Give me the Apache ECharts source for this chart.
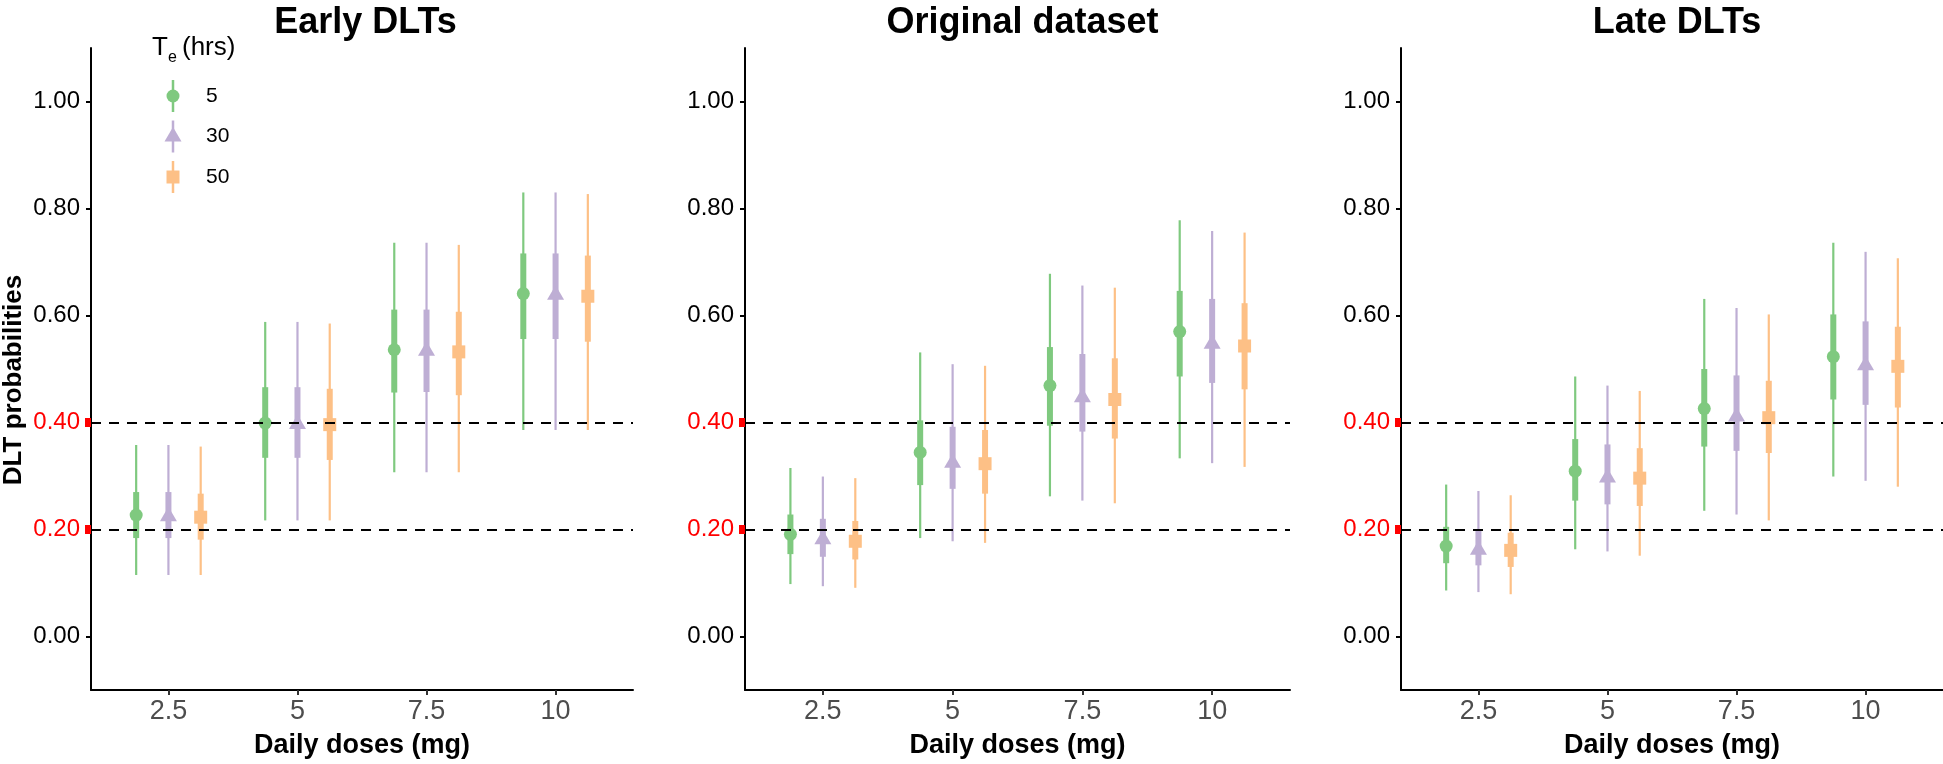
<!DOCTYPE html>
<html><head><meta charset="utf-8">
<script src="https://cdn.jsdelivr.net/npm/echarts@6/dist/echarts.min.js"></script>
<style>html,body{margin:0;padding:0;background:#fff}#c{width:1943px;height:764px}</style>
</head><body><div id="c"></div><script>
// ---- data ----
const panelTitles = ['Early DLTs', 'Original dataset', 'Late DLTs'];
const doses = ['2.5', '5', '7.5', '10'];
const teLevels = ['5', '30', '50'];
const yTicks = [0, 0.2, 0.4, 0.6, 0.8, 1.0];
const thresholds = [0.2, 0.4];
// each row: [lo95, lo50, median, hi50, hi95] for doses 2.5, 5, 7.5, 10
const early_te5  = [[0.115,0.184,0.227,0.270,0.358],[0.217,0.334,0.399,0.466,0.588],[0.307,0.456,0.536,0.611,0.736],[0.386,0.556,0.641,0.716,0.830]];
const early_te30 = [[0.115,0.184,0.225,0.270,0.358],[0.217,0.334,0.397,0.466,0.588],[0.307,0.457,0.534,0.611,0.736],[0.386,0.556,0.639,0.716,0.830]];
const early_te50 = [[0.115,0.181,0.223,0.267,0.355],[0.217,0.330,0.396,0.463,0.585],[0.307,0.451,0.532,0.607,0.732],[0.386,0.551,0.636,0.712,0.827]];
const orig_te5   = [[0.098,0.154,0.191,0.228,0.315],[0.184,0.283,0.344,0.404,0.531],[0.262,0.394,0.469,0.541,0.678],[0.333,0.486,0.570,0.646,0.778]];
const orig_te30  = [[0.094,0.149,0.182,0.220,0.299],[0.178,0.276,0.325,0.392,0.509],[0.254,0.383,0.447,0.528,0.656],[0.324,0.474,0.547,0.631,0.758]];
const orig_te50  = [[0.091,0.144,0.178,0.216,0.296],[0.175,0.267,0.323,0.386,0.506],[0.249,0.370,0.443,0.520,0.652],[0.317,0.462,0.543,0.623,0.755]];
const late_te5   = [[0.086,0.137,0.169,0.205,0.284],[0.163,0.254,0.309,0.369,0.486],[0.235,0.355,0.426,0.500,0.631],[0.299,0.443,0.523,0.602,0.736]];
const late_te30  = [[0.083,0.133,0.162,0.199,0.272],[0.159,0.247,0.297,0.359,0.469],[0.228,0.347,0.411,0.488,0.614],[0.291,0.433,0.507,0.589,0.719]];
const late_te50  = [[0.079,0.130,0.161,0.194,0.264],[0.151,0.244,0.296,0.352,0.459],[0.217,0.343,0.409,0.478,0.602],[0.280,0.428,0.505,0.579,0.707]];
const panelData = [[early_te5, early_te30, early_te50],[orig_te5, orig_te30, orig_te50],[late_te5, late_te30, late_te50]];

// ---- style ----
const colors = ['#7FC97F', '#BEAED4', '#FDC086'];
const shapes = ['circle', 'triangle', 'square'];
const dodge = [-0.25, 0, 0.25];
const FONT = "'Liberation Sans', Arial, Helvetica, sans-serif";
const gridLeft = [88, 745, 1401];
const gridWidth = [545, 545, 542];

function drawSymbol(shape, cx, cy, color) {
  if (shape === 'circle') return {type:'circle', shape:{cx:cx, cy:cy, r:6.5}, style:{fill:color}};
  if (shape === 'triangle') return {type:'polygon', shape:{points:[[cx, cy-9.5],[cx-8.5, cy+5],[cx+8.5, cy+5]]}, style:{fill:color}};
  return {type:'rect', shape:{x:cx-6.5, y:cy-6.5, width:13, height:13}, style:{fill:color}};
}

function makeRender(shape) {
  return function (params, api) {
    const x = api.value(0);
    const a = api.coord([x, api.value(1)]);
    const b = api.coord([x, api.value(2)]);
    const m = api.coord([x, api.value(3)]);
    const c = api.coord([x, api.value(4)]);
    const d = api.coord([x, api.value(5)]);
    const color = api.visual('color');
    return {type:'group', children:[
      {type:'line', shape:{x1:a[0], y1:a[1], x2:d[0], y2:d[1]}, style:{stroke:color, lineWidth:2.2}},
      {type:'line', shape:{x1:b[0], y1:b[1], x2:c[0], y2:c[1]}, style:{stroke:color, lineWidth:6}},
      drawSymbol(shape, m[0], m[1], color)
    ]};
  };
}

const grids = [], xAxes = [], yAxes = [], series = [], titles = [];
for (let p = 0; p < 3; p++) {
  grids.push({left: gridLeft[p], width: gridWidth[p], top: 48, bottom: 71, containLabel: false});
  titles.push({text: panelTitles[p], left: gridLeft[p] + gridWidth[p] / 2, top: 0, textAlign: 'center',
    textStyle: {fontSize: 36, fontWeight: 'bold', color: '#000', fontFamily: FONT}});
  xAxes.push({gridIndex: p, type: 'value', min: 0.4, max: 4.6,
    splitLine: {show: false},
    axisLine: {show: true, onZero: false, lineStyle: {color: '#000', width: 2}},
    axisTick: {show: true, customValues: [1, 2, 3, 4], length: 5, lineStyle: {color: '#333', width: 2}},
    axisLabel: {customValues: [1, 2, 3, 4], formatter: v => doses[Math.round(v) - 1], color: '#4d4d4d', fontSize: 27, margin: 8, fontFamily: FONT},
    name: 'Daily doses (mg)', nameLocation: 'middle', nameGap: 42,
    nameTextStyle: {fontWeight: 'bold', fontSize: 27, color: '#000', fontFamily: FONT}});
  const yMain = {gridIndex: p, type: 'value', min: -0.1, max: 1.1,
    splitLine: {show: false},
    axisLine: {show: true, onZero: false, lineStyle: {color: '#000', width: 2}},
    axisTick: {show: true, customValues: yTicks.filter(t => thresholds.indexOf(t) < 0), length: 5, lineStyle: {color: '#000', width: 2}},
    axisLabel: {customValues: yTicks, formatter: v => Number(v).toFixed(2),
      color: v => thresholds.some(t => Math.abs(t - Number(v)) < 1e-9) ? '#ff0000' : '#000',
      fontSize: 24, margin: 11, fontFamily: FONT}};
  if (p === 0) {
    yMain.name = 'DLT probabilities'; yMain.nameLocation = 'middle'; yMain.nameGap = 64; yMain.nameRotate = 90;
    yMain.nameTextStyle = {fontWeight: 'bold', fontSize: 26, color: '#000', fontFamily: FONT, padding: [0, 22, 0, 0]};
  }
  yAxes.push(yMain);
  yAxes.push({gridIndex: p, type: 'value', min: -0.1, max: 1.1, position: 'left',
    splitLine: {show: false}, axisLine: {show: false}, axisLabel: {show: false},
    axisTick: {show: true, customValues: thresholds, length: 6, lineStyle: {color: '#ff0000', width: 9}}});
  for (let s = 0; s < 3; s++) {
    series.push({type: 'custom', name: teLevels[s], xAxisIndex: p, yAxisIndex: 2 * p, z: 2,
      itemStyle: {color: colors[s]}, clip: false, renderItem: makeRender(shapes[s]),
      encode: {x: 0, y: [1, 2, 3, 4, 5]},
      data: panelData[p][s].map((r, i) => [i + 1 + dodge[s]].concat(r))});
  }
  series.push({type: 'line', xAxisIndex: p, yAxisIndex: 2 * p, data: [], z: 5, silent: true,
    markLine: {silent: true, symbol: ['none', 'none'], label: {show: false},
      lineStyle: {color: '#000', type: [10, 8], width: 2}, emphasis: {disabled: true},
      data: thresholds.map(t => ({yAxis: t}))}});
}

// legend drawn as graphic glyphs (point-range keys)
const legendX = 173, legendY0 = 96, legendStep = 40.5;
const graphic = [
  {type: 'text', left: 152, top: 35, style: {text: 'T', fontSize: 26, fontFamily: FONT, fill: '#000'}},
  {type: 'text', left: 168, top: 50, style: {text: 'e', fontSize: 16, fontFamily: FONT, fill: '#000'}},
  {type: 'text', left: 182, top: 35, style: {text: '(hrs)', fontSize: 26, fontFamily: FONT, fill: '#000'}}
];
teLevels.forEach((lab, s) => {
  const cy = legendY0 + s * legendStep;
  const sym = drawSymbol(shapes[s], legendX, cy, colors[s]);
  graphic.push({type: 'group', children: [
    {type: 'line', shape: {x1: legendX, y1: cy - 16, x2: legendX, y2: cy + 16}, style: {stroke: colors[s], lineWidth: 2.5}},
    sym,
    {type: 'text', x: 206, y: cy, style: {text: lab, fontSize: 21, fontFamily: FONT, fill: '#000', verticalAlign: 'middle'}}
  ]});
});

const chart = echarts.init(document.getElementById('c'), null, {renderer: 'canvas'});
chart.setOption({
  animation: false,
  backgroundColor: '#fff',
  textStyle: {fontFamily: FONT},
  title: titles,
  grid: grids,
  xAxis: xAxes,
  yAxis: yAxes,
  series: series,
  graphic: graphic
});
</script></body></html>
